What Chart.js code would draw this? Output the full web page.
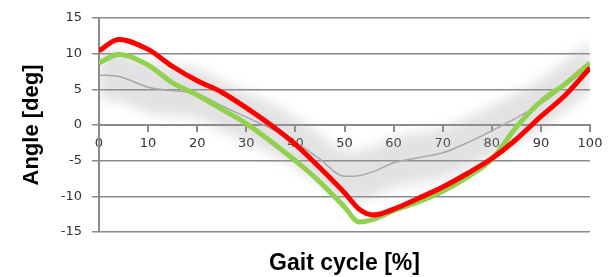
<!DOCTYPE html>
<html>
<head>
<meta charset="utf-8">
<script src="https://cdn.jsdelivr.net/npm/chart.js@4"></script>
<style>
  html, body { margin: 0; padding: 0; background: #fff; }
  #wrap { width: 608px; height: 277px; }
</style>
</head>
<body>
<div id="wrap"><canvas id="gait"></canvas></div>
<script>
/* ── Data ────────────────────────────────────── */
const pct       = [0, 4, 10, 15, 20, 25, 30, 35, 40, 45, 50, 53, 56, 60, 65, 70, 75, 80, 85, 90, 95, 100];
const redAngle  = [10.4, 12.0, 10.6, 8.2, 6.2, 4.6, 2.4, 0.0, -2.7, -6.0, -9.5, -11.8, -12.6, -11.8, -10.3, -8.7, -6.8, -4.7, -2.0, 1.2, 4.2, 8.0];
const greenAngle= [8.7, 9.9, 8.4, 5.9, 4.2, 2.2, 0.2, -2.3, -5.0, -8.0, -11.5, -13.6, -13.2, -12.0, -10.8, -9.3, -7.3, -4.8, -0.3, 3.3, 5.8, 8.7];
const normMean  = [7.0, 6.8, 5.3, 4.8, 4.4, 2.7, 1.1, -0.5, -2.4, -4.8, -7.2, -7.1, -6.5, -5.3, -4.6, -3.9, -2.5, -0.8, 1.0, 3.0, 5.5, 8.2];
const normUpper = [10.5, 10.3, 8.9, 8.3, 7.9, 6.2, 4.6, 3.0, 1.1, -1.3, -3.7, -3.6, -3.0, -1.8, -1.1, -0.4, 1.0, 2.7, 4.5, 6.5, 9.0, 11.7];
const normLower = [3.5, 3.3, 1.7, 1.3, 0.9, -0.8, -2.4, -4.0, -5.9, -8.3, -10.7, -10.6, -10.0, -8.8, -8.1, -7.4, -6.0, -4.3, -2.5, -0.5, 2.0, 4.7];
const yTicks    = [-15, -10, -5, 0, 5, 10, 15];
const xTicks    = [0, 10, 20, 30, 40, 50, 60, 70, 80, 90, 100];

const pts = arr => arr.map((v, i) => ({ x: pct[i], y: v }));

// soft edge for the normative band: blur only while the fill is painted
const blurBand = {
  id: 'blurBand',
  beforeDatasetsDraw(chart) { chart.ctx.filter = 'blur(6px)'; },
  afterDatasetDraw(chart, args) { if (args.index === 3) chart.ctx.filter = 'none'; }
};

const axisGray = '#8a8a8a';
const tickFont = { family: 'DejaVu Sans', size: 13 };

new Chart(document.getElementById('gait').getContext('2d'), {
  type: 'line',
  data: {
    datasets: [
      { data: pts(redAngle), borderColor: '#ff0000', borderWidth: 5, pointRadius: 0, cubicInterpolationMode: 'monotone' },
      { data: pts(greenAngle), borderColor: '#92d050', borderWidth: 5, pointRadius: 0, cubicInterpolationMode: 'monotone' },
      { data: pts(normMean), borderColor: '#a8a8a8', borderWidth: 1.5, pointRadius: 0, cubicInterpolationMode: 'monotone' },
      { data: pts(normUpper), borderWidth: 0, pointRadius: 0, fill: '+1', backgroundColor: 'rgba(160,160,160,0.3)', cubicInterpolationMode: 'monotone' },
      { data: pts(normLower), borderWidth: 0, pointRadius: 0, fill: false, cubicInterpolationMode: 'monotone' }
    ]
  },
  options: {
    responsive: true,
    maintainAspectRatio: false,
    animation: false,
    layout: { padding: { top: 18, right: 18, left: 0, bottom: 0 } },
    plugins: { legend: { display: false }, tooltip: { enabled: false } },
    scales: {
      x: {
        type: 'linear', min: 0, max: 100,
        position: { y: 0 },
        afterBuildTicks: s => { s.ticks = xTicks.map(v => ({ value: v })); },
        grid: { drawOnChartArea: false, drawTicks: true, tickLength: 6, color: axisGray, lineWidth: 2 },
        border: { display: true, color: axisGray, width: 2 },
        ticks: { font: tickFont, color: '#333', padding: 5, maxRotation: 0 }
      },
      x2: {
        type: 'linear', min: 0, max: 100, position: 'bottom',
        grid: { display: false, drawTicks: false },
        border: { display: false },
        ticks: { display: false },
        title: { display: true, text: 'Gait cycle [%]', font: { family: 'Liberation Sans', size: 23, weight: 'bold' }, color: '#000', padding: { top: 0, bottom: 0 } },
        afterFit: s => { s.height = 45; }
      },
      y: {
        min: -15, max: 15,
        afterBuildTicks: s => { s.ticks = yTicks.map(v => ({ value: v })); },
        grid: { color: axisGray, lineWidth: 1.5, tickLength: 7 },
        border: { display: true, color: axisGray, width: 2 },
        ticks: { font: tickFont, color: '#333', padding: 10 },
        title: { display: true, text: 'Angle [deg]', font: { family: 'Liberation Sans', size: 22, weight: 'bold' }, color: '#000', padding: { top: 19, bottom: 0 } },
        afterFit: s => { s.width = 99; }
      }
    }
  },
  plugins: [blurBand]
});
</script>
</body>
</html>
